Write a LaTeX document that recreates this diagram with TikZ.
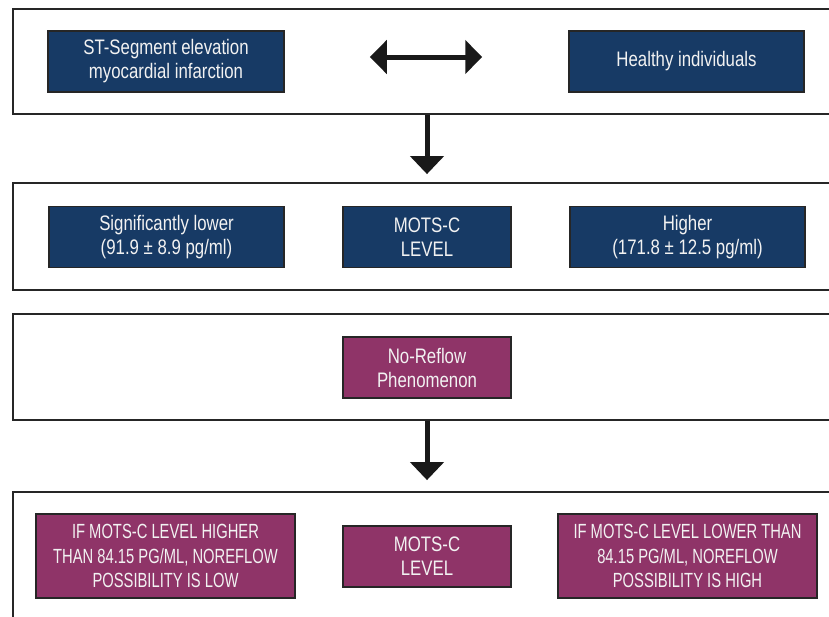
\documentclass[tikz,border=0pt]{standalone}
\usepackage{fontspec}
\setmainfont[FakeStretch=0.8]{Liberation Sans}
\newfontfamily\capsfont[FakeStretch=0.72]{Liberation Sans}
\usetikzlibrary{arrows.meta}
\definecolor{navy}{HTML}{173A65}
\definecolor{plum}{HTML}{8F3468}

\begin{document}
\begin{tikzpicture}[x=1pt,y=-1pt,
  panel/.style={draw=black!85, line width=1.8pt, minimum width=822pt, inner sep=0pt},
  box/.style={draw=black!85, line width=1.5pt, text=white!95!black, align=center, inner sep=0pt,
    minimum height=61pt, font=\fontsize{21}{24}\selectfont},
  navybox/.style={box, fill=navy},
  plumbox/.style={box, fill=plum},
  capsbox/.style={plumbox, minimum width=259pt, minimum height=84pt, font=\capsfont\fontsize{20.5}{24.5}\selectfont},
  bigarrow/.style={line width=5pt, draw=black!90}]
\useasboundingbox (0,0) rectangle (829,616);
% panels
\node[panel, minimum height=105pt] (p1) at (424,61.5) {};
\node[panel, minimum height=107pt] (p2) at (424,236.5) {};
\node[panel, minimum height=106pt] (p3) at (424,367) {};
\node[panel, minimum height=138pt] (p4) at (424,561) {};
% boxes
\node[navybox, minimum width=236pt] (1) at (166,61.5) {ST-Segment elevation\\myocardial infarction};
\node[navybox, minimum width=235pt] (2) at (686.5,61.5) {Healthy individuals};
\node[navybox, minimum width=235pt] (3) at (166.5,237) {Significantly lower\\(91.9 ± 8.9 pg/ml)};
\node[navybox, minimum width=168pt] (4) at (427,237) {MOTS-C\\LEVEL};
\node[navybox, minimum width=235pt] (5) at (687.5,237) {Higher\\(171.8 ± 12.5 pg/ml)};
\node[plumbox, minimum width=168pt] (6) at (427,367.5) {No-Reflow\\Phenomenon};
\node[capsbox] (7) at (165.5,556) {IF MOTS-C LEVEL HIGHER\\THAN 84.15 PG/ML, NOREFLOW\\POSSIBILITY IS LOW};
\node[plumbox, minimum width=168pt] (8) at (427,556.5) {MOTS-C\\LEVEL};
\node[capsbox] (9) at (687.5,556) {IF MOTS-C LEVEL LOWER THAN\\84.15 PG/ML, NOREFLOW\\POSSIBILITY IS HIGH};
% arrows
\path[draw,bigarrow,{Triangle[length=17pt,width=33pt]}-{Triangle[length=17pt,width=33pt]},shorten <=85pt,shorten >=86pt]
  ([yshift=4.5pt]1.east) -- ([yshift=4.5pt]2.west);
\path[draw,bigarrow,-{Triangle[length=18pt,width=33pt]},shorten >=8pt] (p1.south -| 4) -- (p2.north -| 4);
\path[draw,bigarrow,-{Triangle[length=18pt,width=33pt]},shorten >=11pt] (p3.south -| 8) -- (p4.north -| 8);
\end{tikzpicture}
\end{document}
